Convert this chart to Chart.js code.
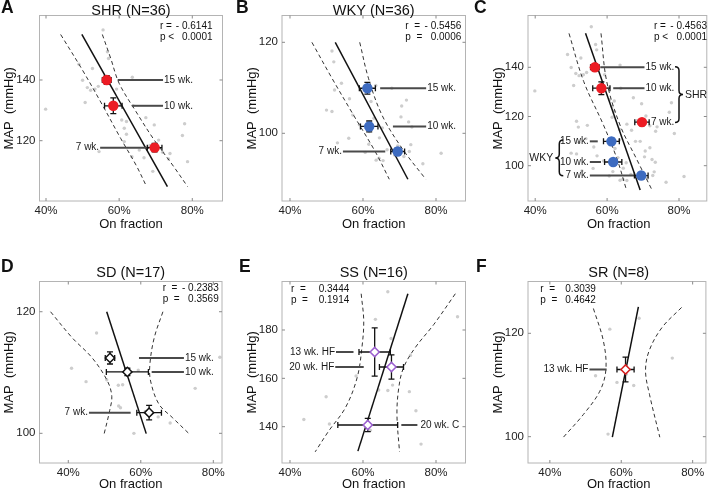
<!DOCTYPE html>
<html>
<head>
<meta charset="utf-8">
<script src="https://cdn.jsdelivr.net/npm/chart.js@4.4.0/dist/chart.umd.min.js"></script>
<style>
  body { margin: 0; background: #fff; width: 712px; height: 490px; position: relative; overflow: hidden; }
  canvas { position: absolute; }
</style>
</head>
<body>
<canvas id="pA"></canvas>
<canvas id="pB"></canvas>
<canvas id="pC"></canvas>
<canvas id="pD"></canvas>
<canvas id="pE"></canvas>
<canvas id="pF"></canvas>
<script>
const FONT = "'Liberation Sans', Arial, Helvetica, sans-serif";

// tick values
const xTicks = [40, 60, 80];
const shrTicks = [120, 140];
const wkyTicks = [100, 120];
const allTicks = [100, 120, 140];
const sdTicks = [100, 120];
const ssTicks = [140, 160, 180];
const srTicks = [100, 120];

// individual animals: on fraction (%) and MAP (mmHg)
const shrOn  = [55.6, 56.8, 57.1, 49.0, 52.7, 50.0, 51.3, 52.2, 53.4, 54.3, 59.3, 63.6, 50.7, 39.9, 60.5, 63.8, 60.7, 62.0,
                67.3, 69.6, 77.9, 77.3, 62.0, 61.4, 54.5, 65.5, 63.5, 71.9, 73.9, 73.5, 78.7, 69.2, 66.8, 61.4, 70.8, 68.4];
const shrMap = [156.5, 149.3, 147.1, 145.2, 143.8, 139.9, 137.5, 136.6, 137.0, 137.9, 137.0, 140.9, 132.6, 130.4, 131.8, 131.5, 126.8, 126.3,
                127.6, 125.2, 125.6, 121.7, 122.1, 119.7, 116.4, 116.9, 114.7, 116.2, 115.8, 114.0, 113.1, 109.9, 114.4, 124.1, 120.2, 118.4];
const wkyOn  = [51.5, 52.0, 52.2, 54.1, 50.0, 51.5, 57.2, 53.0, 56.1, 61.6, 61.7, 63.5, 67.9, 70.6, 71.9, 70.4, 72.5, 73.4,
                63.6, 64.4, 65.5, 68.7, 71.2, 72.7, 76.4, 81.4, 59.0, 62.2, 64.5, 66.6, 69.5, 73.1, 60.6, 65.3, 56.3, 63.0];
const wkyMap = [118.1, 115.7, 109.5, 111.0, 105.1, 104.8, 104.0, 97.9, 98.9, 97.6, 100.4, 110.5, 109.9, 106.0, 107.3, 103.6, 102.5, 101.4,
                94.1, 94.5, 94.0, 95.2, 94.9, 96.0, 93.3, 95.6, 101.9, 107.0, 99.0, 96.4, 97.2, 97.5, 95.8, 101.2, 107.6, 103.3];
const sdOn  = [47.8, 40.9, 44.9, 50.6, 53.8, 59.3, 53.9, 54.4, 58.1, 64.8, 68.1, 75.0, 81.8, 56.1, 61.2, 50.8, 55.0];
const sdMap = [116.5, 110.7, 108.5, 108.8, 107.9, 110.4, 104.5, 104.2, 100.0, 102.7, 101.7, 107.4, 112.5, 110.2, 103.6, 112.5, 108.0];
const ssOn  = [66.8, 85.9, 63.4, 67.7, 58.1, 66.8, 68.1, 72.7, 74.5, 49.9, 43.8, 50.8, 75.9, 64.3, 62.0, 73.0];
const ssMap = [195.8, 185.5, 184.4, 176.5, 161.0, 155.0, 157.2, 154.5, 146.6, 152.4, 143.0, 141.1, 132.8, 155.2, 138.5, 169.5];
const srOn  = [65.0, 56.8, 74.3, 52.8, 58.8, 63.5, 56.3, 61.4];
const srMap = [122.9, 120.8, 115.2, 111.8, 110.5, 109.9, 100.5, 112.1];

// group means with error (SEM)
const shrMeanOn = [56.6, 58.4, 69.7], shrMeanMap = [140.0, 131.5, 117.7];
const shrErrOn  = [1.2, 2.4, 2.0],    shrErrMap  = [1.4, 2.6, 1.4];
const wkyMeanOn = [61.2, 61.7, 69.5], wkyMeanMap = [109.9, 101.5, 96.0];
const wkyErrOn  = [2.2, 2.4, 1.9],    wkyErrMap  = [1.3, 1.2, 0.8];
const sdMeanOn  = [51.5, 56.3, 62.3], sdMeanMap  = [112.4, 110.1, 103.4];
const sdErrOn   = [1.3, 5.8, 3.4],    sdErrMap   = [1.0, 0.6, 1.2];
const ssMeanOn  = [63.2, 67.8, 61.3], ssMeanMap  = [170.9, 164.7, 140.7];
const ssErrOn   = [4.3, 3.3, 8.2],    ssErrMap   = [10.0, 5.0, 2.7];
const srMeanOn  = [61.2], srMeanMap = [113.0];
const srErrOn   = [2.4],  srErrMap  = [2.4];

// regression lines and confidence bands
const shrFitOn = [49.8, 73.2], shrFitMap = [155.0, 104.9];
const shrLoOn = [44.0, 49.95, 55.4, 60.4, 64.6, 67.5], shrLoMap = [155.0, 143.3, 131.8, 120.8, 112.0, 104.9];
const shrHiOn = [55.4, 57.7, 60.0, 64.6, 69.6, 74.6, 78.7], shrHiMap = [155.0, 147.1, 138.9, 129.6, 120.2, 112.0, 104.9];
const wkyFitOn = [52.4, 72.3], wkyFitMap = [120.0, 89.9];
const wkyLoOn = [46.0, 51.5, 57.4, 63.4, 67.2], wkyLoMap = [120.0, 112.1, 104.0, 95.9, 89.9];
const wkyHiOn = [59.1, 61.5, 65.2, 70.7, 77.2], wkyHiMap = [120.0, 112.1, 104.0, 96.7, 89.9];
const allFitOn = [54.0, 69.2], allFitMap = [153.8, 90.1];
const allLoOn = [49.4, 53.5, 59.0, 62.7, 65.4], allLoMap = [153.8, 134.2, 116.5, 103.0, 90.1];
const allHiOn = [58.3, 59.9, 63.6, 68.1, 72.5], allHiMap = [153.8, 134.2, 116.5, 103.0, 90.1];
const sdFitOn = [50.6, 61.5], sdFitMap = [120.0, 99.95];
const sdLoOn = [35.1, 41.1, 46.6, 50.8, 52.0, 51.4, 49.9], sdLoMap = [120.0, 115.7, 112.4, 108.6, 106.1, 103.7, 99.95];
const sdHiOn = [66.1, 63.7, 62.5, 62.7, 65.0, 68.7, 73.3], sdHiMap = [120.0, 115.7, 111.3, 108.6, 104.8, 102.6, 99.95];
const ssFitOn = [58.6, 72.3], ssFitMap = [129.9, 195.0];
const ssLoOn = [59.5, 60.2, 59.7, 58.4, 55.2, 50.6, 46.9], ssLoMap = [195.0, 183.7, 172.7, 160.3, 147.9, 138.2, 129.6];
const ssHiOn = [85.3, 79.4, 74.3, 71.1, 69.8, 69.3, 70.0], ssHiMap = [195.0, 182.3, 172.7, 164.4, 156.1, 145.1, 129.6];
const srFitOn = [57.5, 64.8], srFitMap = [99.9, 125.1];
const srLoOn = [52.2, 55.0, 55.7, 54.0, 49.4, 43.8], srLoMap = [124.8, 118.5, 113.0, 108.8, 104.3, 99.9];
const srHiOn = [76.9, 71.4, 67.8, 66.8, 67.9, 70.8], srHiMap = [125.0, 121.1, 116.6, 112.7, 108.2, 99.9];

const RED = '#ec1c24', BLUE = '#3d6bc0', PURPLE = '#9b5fcf';

function zip(xs, ys) { return xs.map((x, i) => ({ x: x, y: ys[i] })); }

// page layout: cv = canvas rect, area = plot box (page px)
const panels = [
  { id: 'pA', cv: [0, 0, 236, 245], area: [39.5, 15.5, 222.5, 201], xLim: [38.22, 88.26], yLim: [100.13, 161.25], yTicks: shrTicks,
    letter: ['A', 1, 13], title: 'SHR (N=36)', titleY: 15, xtY: 228, ytX: 9,
    cloud: [shrOn, shrMap], fit: [shrFitOn, shrFitMap], lo: [shrLoOn, shrLoMap], hi: [shrHiOn, shrHiMap],
    groups: [{ on: shrMeanOn, map: shrMeanMap, eOn: shrErrOn, eMap: shrErrMap, color: RED }],
    notes: [{ t: '15 wk.', y: 140.0, x1: 59.6, x2: 72.0, side: 'r' }, { t: '10 wk.', y: 131.5, x1: 63.6, x2: 72.0, side: 'r' },
            { t: '7 wk.', y: 117.7, x1: 54.8, x2: 68.2, side: 'l' }],
    stats: { x0: 160, x1: 212.5, align: 'right', y: [26.5, 37.5], lines: [['r =', '- 0.6141'], ['p <', '0.0001']] } },
  { id: 'pB', cv: [236, 0, 236, 245], area: [282, 15.5, 465.5, 201], xLim: [37.81, 88.08], yLim: [85.12, 125.89], yTicks: wkyTicks,
    letter: ['B', 236, 13], title: 'WKY (N=36)', titleY: 15, xtY: 228, ytX: 252,
    cloud: [wkyOn, wkyMap], fit: [wkyFitOn, wkyFitMap], lo: [wkyLoOn, wkyLoMap], hi: [wkyHiOn, wkyHiMap],
    groups: [{ on: wkyMeanOn, map: wkyMeanMap, eOn: wkyErrOn, eMap: wkyErrMap, color: BLUE }],
    notes: [{ t: '15 wk.', y: 109.9, x1: 64.7, x2: 77.3, side: 'r' }, { t: '10 wk.', y: 101.5, x1: 68.2, x2: 77.3, side: 'r' },
            { t: '7 wk.', y: 96.0, x1: 54.5, x2: 66.1, side: 'l' }],
    stats: { x0: 405.3, x1: 461.3, align: 'right', y: [26.5, 37.5], lines: [['r  =', '- 0.5456'], ['p  =', '0.0006']] } },
  { id: 'pC', cv: [472, 0, 240, 245], area: [528, 15.5, 709.5, 201], xLim: [38.0, 87.73], yLim: [85.65, 161.06], yTicks: allTicks,
    letter: ['C', 474, 13], title: '', titleY: 15, xtY: 228, ytX: 498.5,
    cloud: [shrOn.concat(wkyOn), shrMap.concat(wkyMap)], fit: [allFitOn, allFitMap], lo: [allLoOn, allLoMap], hi: [allHiOn, allHiMap],
    groups: [{ on: shrMeanOn, map: shrMeanMap, eOn: shrErrOn, eMap: shrErrMap, color: RED },
             { on: wkyMeanOn, map: wkyMeanMap, eOn: wkyErrOn, eMap: wkyErrMap, color: BLUE }],
    notes: [{ t: '15 wk.', y: 140.0, x1: 58.1, x2: 70.4, side: 'r' }, { t: '10 wk.', y: 131.5, x1: 61.7, x2: 70.4, side: 'r' },
            { t: '7 wk.', y: 117.7, x1: 71.9, x2: 71.9, side: 'r' },
            { t: '15 wk.', y: 109.9, x1: 55.2, x2: 57.4, side: 'l' }, { t: '10 wk.', y: 101.5, x1: 55.2, x2: 58.3, side: 'l' },
            { t: '7 wk.', y: 96.0, x1: 55.2, x2: 68.1, side: 'l' }],
    braces: [{ x: 80.0, y1: 140.2, y2: 117.6, dir: 1, t: 'SHR' }, { x: 46.7, y1: 110.4, y2: 95.9, dir: -1, t: 'WKY' }],
    stats: { x0: 654, x1: 707, align: 'right', y: [26.5, 37.5], lines: [['r =', '- 0.4563'], ['p <', '0.0001']] } },
  { id: 'pD', cv: [0, 245, 236, 245], area: [39.5, 281.5, 222, 463], xLim: [32.06, 82.4], yLim: [95.12, 124.97], yTicks: sdTicks,
    letter: ['D', 1, 271.5], title: 'SD (N=17)', titleY: 276.5, xtY: 488, ytX: 9.5,
    cloud: [sdOn, sdMap], fit: [sdFitOn, sdFitMap], lo: [sdLoOn, sdLoMap], hi: [sdHiOn, sdHiMap],
    groups: [{ on: sdMeanOn, map: sdMeanMap, eOn: sdErrOn, eMap: sdErrMap, color: '#111', diamond: true }],
    notes: [{ t: '15 wk.', y: 112.4, x1: 59.5, x2: 71.9, side: 'r' }, { t: '10 wk.', y: 110.1, x1: 63.0, x2: 71.9, side: 'r' },
            { t: '7 wk.', y: 103.4, x1: 45.7, x2: 57.2, side: 'l' }],
    stats: { x0: 162.7, x1: 218.7, align: 'right', y: [288.5, 299.5], lines: [['r  =', '- 0.2383'], ['p  =', '0.3569']] } },
  { id: 'pE', cv: [236, 245, 236, 245], area: [282, 281.5, 465.5, 463], xLim: [37.81, 88.08], yLim: [124.98, 200.06], yTicks: ssTicks,
    letter: ['E', 239, 271.5], title: 'SS (N=16)', titleY: 276.5, xtY: 488, ytX: 252,
    cloud: [ssOn, ssMap], fit: [ssFitOn, ssFitMap], lo: [ssLoOn, ssLoMap], hi: [ssHiOn, ssHiMap],
    groups: [{ on: ssMeanOn, map: ssMeanMap, eOn: ssErrOn, eMap: ssErrMap, color: PURPLE, diamond: true }],
    notes: [{ t: '13 wk. HF', y: 170.9, x1: 52.6, x2: 57.4, side: 'l' }, { t: '20 wk. HF', y: 164.7, x1: 52.4, x2: 60.2, side: 'l' },
            { t: '20 wk. C', y: 140.7, x1: 70.5, x2: 74.9, side: 'r', gap: 3 }],
    stats: { x0: 291, x1: 318.7, align: 'left', y: [289, 300], lines: [['r  =', '0.3444'], ['p  =', '0.1914']] } },
  { id: 'pF', cv: [472, 245, 240, 245], area: [528, 281.5, 709.5, 463], xLim: [33.88, 83.71], yLim: [94.91, 130.02], yTicks: srTicks,
    letter: ['F', 476, 271.5], title: 'SR (N=8)', titleY: 276.5, xtY: 488, ytX: 498.5,
    cloud: [srOn, srMap], fit: [srFitOn, srFitMap], lo: [srLoOn, srLoMap], hi: [srHiOn, srHiMap],
    groups: [{ on: srMeanOn, map: srMeanMap, eOn: srErrOn, eMap: srErrMap, color: '#d62020', diamond: true }],
    notes: [{ t: '13 wk. HF', y: 113.0, x1: 51.1, x2: 55.9, side: 'l' }],
    stats: { x0: 540.3, x1: 565.3, align: 'left', y: [289, 300], lines: [['r  =', '0.3039'], ['p  =', '0.4642']] } }
];

function brace(ctx, x, ya, yb, dir) {
  const w = 4, r = 4, ym = (ya + yb) / 2;
  ctx.beginPath();
  ctx.moveTo(x - dir * w, ya);
  ctx.quadraticCurveTo(x, ya, x, ya + r);
  ctx.lineTo(x, ym - r);
  ctx.quadraticCurveTo(x, ym, x + dir * w, ym);
  ctx.quadraticCurveTo(x, ym, x, ym + r);
  ctx.lineTo(x, yb - r);
  ctx.quadraticCurveTo(x, yb, x - dir * w, yb);
  ctx.stroke();
}

function makeDeco(p) {
  return {
    id: 'deco',
    afterDatasetDraw(chart, args) {
      if (chart.data.datasets[args.index].role !== 'fit') return;
      const { ctx, scales: { x, y } } = chart;
      const X = v => x.getPixelForValue(v), Y = v => y.getPixelForValue(v);
      ctx.save();
      // leader lines
      ctx.strokeStyle = '#4a4a4a';
      ctx.lineWidth = 2;
      p.notes.forEach(n => {
        if (n.x2 <= n.x1) return;
        ctx.beginPath();
        ctx.moveTo(X(n.x1), Y(n.y));
        ctx.lineTo(X(n.x2), Y(n.y));
        ctx.stroke();
      });
      // error bars
      ctx.strokeStyle = '#111';
      ctx.lineWidth = 1.3;
      const c = 3;
      p.groups.forEach(g => g.on.forEach((v, i) => {
        const cx = X(v), cy = Y(g.map[i]);
        const x0 = X(v - g.eOn[i]), x1 = X(v + g.eOn[i]);
        const y0 = Y(g.map[i] - g.eMap[i]), y1 = Y(g.map[i] + g.eMap[i]);
        ctx.beginPath();
        ctx.moveTo(x0, cy); ctx.lineTo(x1, cy);
        ctx.moveTo(x0, cy - c); ctx.lineTo(x0, cy + c);
        ctx.moveTo(x1, cy - c); ctx.lineTo(x1, cy + c);
        ctx.moveTo(cx, y0); ctx.lineTo(cx, y1);
        ctx.moveTo(cx - c, y0); ctx.lineTo(cx + c, y0);
        ctx.moveTo(cx - c, y1); ctx.lineTo(cx + c, y1);
        ctx.stroke();
      }));
      ctx.restore();
    },
    afterDraw(chart) {
      const { ctx, chartArea: a, scales: { x, y } } = chart;
      const X = v => x.getPixelForValue(v), Y = v => y.getPixelForValue(v);
      ctx.save();
      // box and inward ticks on all four sides
      ctx.strokeStyle = '#b4b4b4';
      ctx.lineWidth = 1;
      ctx.strokeRect(a.left, a.top, a.right - a.left, a.bottom - a.top);
      ctx.strokeStyle = '#8a8a8a';
      ctx.beginPath();
      xTicks.forEach(v => {
        const px = X(v);
        ctx.moveTo(px, a.bottom); ctx.lineTo(px, a.bottom - 3);
        ctx.moveTo(px, a.top); ctx.lineTo(px, a.top + 3);
      });
      p.yTicks.forEach(v => {
        const py = Y(v);
        ctx.moveTo(a.left, py); ctx.lineTo(a.left + 3, py);
        ctx.moveTo(a.right, py); ctx.lineTo(a.right - 3, py);
      });
      ctx.stroke();

      // annotation texts
      ctx.fillStyle = '#1a1a1a';
      ctx.font = '10px ' + FONT;
      ctx.textBaseline = 'middle';
      p.notes.forEach(n => {
        const gap = n.gap || 1;
        if (n.side === 'r') { ctx.textAlign = 'left'; ctx.fillText(n.t, X(n.x2) + gap, Y(n.y)); }
        else { ctx.textAlign = 'right'; ctx.fillText(n.t, X(n.x1) - gap, Y(n.y)); }
      });
      if (p.braces) {
        ctx.strokeStyle = '#111';
        ctx.lineWidth = 1.5;
        ctx.font = '10.5px ' + FONT;
        p.braces.forEach(b => {
          const bx = X(b.x), ya = Y(b.y1), yb = Y(b.y2);
          brace(ctx, bx, ya, yb, b.dir);
          ctx.textAlign = b.dir > 0 ? 'left' : 'right';
          ctx.fillText(b.t, bx + b.dir * 6, (ya + yb) / 2);
        });
      }

      // page-coordinate texts
      ctx.translate(-p.cv[0], -p.cv[1]);
      const [al, at, ar, ab] = p.area;
      const mx = (al + ar) / 2, my = (at + ab) / 2;
      ctx.fillStyle = '#111';
      ctx.textBaseline = 'alphabetic';
      ctx.textAlign = 'left';
      ctx.font = 'bold 17.5px ' + FONT;
      ctx.fillText(p.letter[0], p.letter[1], p.letter[2]);
      ctx.textAlign = 'center';
      ctx.font = '14.5px ' + FONT;
      if (p.title) ctx.fillText(p.title, mx, p.titleY);
      ctx.font = '13px ' + FONT;
      ctx.fillText('On fraction', mx, p.xtY);
      ctx.save();
      ctx.translate(p.ytX, my);
      ctx.rotate(-Math.PI / 2);
      ctx.textBaseline = 'middle';
      ctx.fillText('MAP  (mmHg)', 0, 0);
      ctx.restore();

      const s = p.stats;
      ctx.font = '10px ' + FONT;
      ctx.textBaseline = 'middle';
      s.lines.forEach((ln, i) => {
        ctx.textAlign = 'left';
        ctx.fillText(ln[0], s.x0, s.y[i]);
        ctx.textAlign = s.align;
        ctx.fillText(ln[1], s.x1, s.y[i]);
      });
      ctx.restore();
    }
  };
}

function buildPanel(p) {
  const cv = document.getElementById(p.id);
  const [cx, cy, cw, ch] = p.cv;
  const [al, at, ar, ab] = p.area;
  cv.style.left = cx + 'px';
  cv.style.top = cy + 'px';
  cv.width = cw;
  cv.height = ch;

  const datasets = [];
  p.groups.forEach(g => datasets.push({
    data: zip(g.on, g.map),
    pointStyle: g.diamond ? 'rectRot' : 'circle',
    pointRadius: g.diamond ? 4.6 : 5.2,
    backgroundColor: g.diamond ? '#ffffff' : g.color,
    borderColor: g.color,
    borderWidth: g.diamond ? 1.5 : 0
  }));
  datasets.push({ role: 'fit', data: zip(p.fit[0], p.fit[1]), showLine: true, pointRadius: 0,
                  borderColor: '#111', borderWidth: 1.5 });
  [p.lo, p.hi].forEach(b => datasets.push({
    data: zip(b[0], b[1]), showLine: true, pointRadius: 0, tension: 0.35,
    borderColor: '#333', borderWidth: 1, borderDash: [4, 3]
  }));
  datasets.push({ data: zip(p.cloud[0], p.cloud[1]), pointRadius: 1.7,
                  backgroundColor: '#cdcdcd', borderWidth: 0 });

  const tickFont = { family: FONT, size: 11.5 };
  new Chart(cv, {
    type: 'scatter',
    data: { datasets },
    options: {
      responsive: false,
      animation: false,
      events: [],
      layout: { padding: { left: 0, top: at - cy, right: cx + cw - ar, bottom: 0 } },
      plugins: { legend: { display: false }, tooltip: { enabled: false } },
      scales: {
        x: {
          type: 'linear', min: p.xLim[0], max: p.xLim[1],
          grid: { display: false, drawTicks: false }, border: { display: false },
          afterBuildTicks: s => { s.ticks = xTicks.map(v => ({ value: v })); },
          afterFit: s => { s.height = cy + ch - ab; },
          ticks: { padding: 3, color: '#222', font: tickFont, maxRotation: 0, callback: v => v + '%' }
        },
        y: {
          type: 'linear', min: p.yLim[0], max: p.yLim[1],
          grid: { display: false, drawTicks: false }, border: { display: false },
          afterBuildTicks: s => { s.ticks = p.yTicks.map(v => ({ value: v })); },
          afterFit: s => { s.width = al - cx; },
          ticks: { padding: 4, color: '#222', font: tickFont, callback: v => v }
        }
      }
    },
    plugins: [makeDeco(p)]
  });
}

panels.forEach(buildPanel);
</script>
</body>
</html>
